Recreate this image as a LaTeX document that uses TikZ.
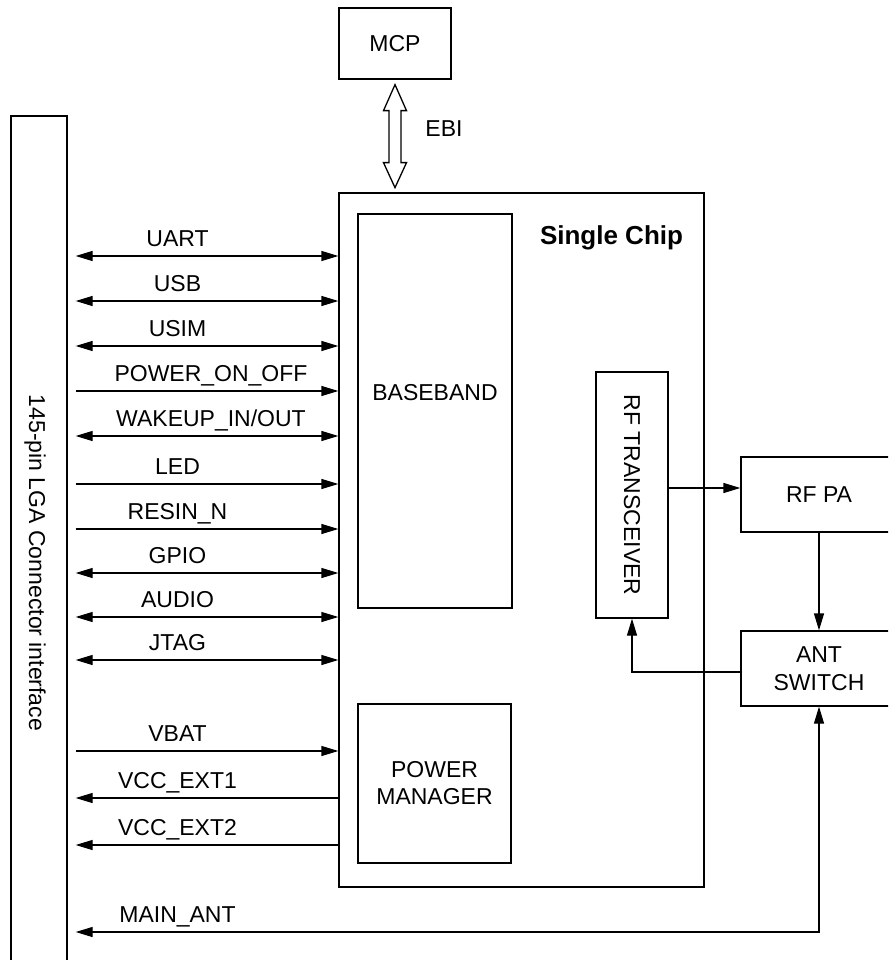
\documentclass[tikz,border=0pt]{standalone}
\usepackage{fontspec}
\setmainfont{Liberation Sans}
\usetikzlibrary{arrows.meta,calc}
\begin{document}
\begin{tikzpicture}[x=1pt,y=-1pt,
  lw/.style={line width=1.3pt},
  blk/.style={draw,lw,inner sep=0pt,rectangle,align=center,font=\fontsize{23}{28}\selectfont},
  txt/.style={inner sep=0pt,font=\fontsize{23}{28}\selectfont},
  sig/.style={lw,arrows={-Triangle[length=17pt,width=10pt]}},
  sigb/.style={lw,arrows={Triangle[length=17pt,width=10pt]-Triangle[length=17pt,width=10pt]}},
  lbl/.style={txt,anchor=base}]
\useasboundingbox (0,0) rectangle (888,960);
\clip (0,0) rectangle (888,960);
% blocks
\node[blk,minimum width=56pt,minimum height=860pt] (conn) at (39,546) {};
\node[txt,rotate=-90] (connlbl) at (35,563) {145-pin LGA Connector interface};
\node[blk,minimum width=112pt,minimum height=71pt] (mcp) at (395,43.5) {MCP};
\node[blk,minimum width=365pt,minimum height=694pt] (chip) at (521.5,540) {};
\node[txt,anchor=base,font=\fontsize{26}{30}\selectfont\bfseries] (chiplbl) at (611.5,244) {Single Chip};
\node[blk,minimum width=154pt,minimum height=394pt] (bb) at (435,411) {};
\node[txt] (bblbl) at (435,393) {BASEBAND};
\node[blk,minimum width=153pt,minimum height=159pt,font=\fontsize{23}{27}\selectfont] (pm) at (434.5,783.5) {POWER\\MANAGER};
\node[blk,rotate=-90,minimum width=246pt,minimum height=72pt] (rft) at (632,495) {RF TRANSCEIVER};
\node[blk,minimum width=156pt,minimum height=75pt] (rfpa) at (819,494.5) {RF PA};
\node[blk,minimum width=156pt,minimum height=75pt,font=\fontsize{23}{28}\selectfont] (ant) at (819,668.5) {ANT\\SWITCH};
% EBI open double arrow
\coordinate (et) at ($(mcp.south)+(0,5)$);
\draw[lw,line join=miter] (et) -- ++(11.5,26) -- ++(-5.5,0) -- ++(0,52) -- ++(5.5,0) -- ++(-11.5,25)
  -- ++(-11.5,-25) -- ++(5.5,0) -- ++(0,-52) -- ++(-5.5,0) -- cycle;
\node[txt] (ebi) at (444,129) {EBI};
% left end coordinate
\coordinate (L) at ($(conn.east)+(8,0)$);
% signals
\draw[sigb] (L |- 0,256) -- (chip.west |- 0,256);
\node[lbl] (uart) at (177.5,246) {UART};
\draw[sigb] (L |- 0,301) -- (chip.west |- 0,301);
\node[lbl] (usb) at (177.5,291) {USB};
\draw[sigb] (L |- 0,346) -- (chip.west |- 0,346);
\node[lbl] (usim) at (177.5,336) {USIM};
\draw[sig] (L |- 0,391) -- (chip.west |- 0,391);
\node[lbl] (pwr) at (211,381) {POWER\_ON\_OFF};
\draw[sigb] (L |- 0,436) -- (chip.west |- 0,436);
\node[lbl] (wake) at (211,426) {WAKEUP\_IN/OUT};
\draw[sig] (L |- 0,484) -- (chip.west |- 0,484);
\node[lbl] (led) at (177.5,474) {LED};
\draw[sig] (L |- 0,529) -- (chip.west |- 0,529);
\node[lbl] (resin) at (177.5,519) {RESIN\_N};
\draw[sigb] (L |- 0,573) -- (chip.west |- 0,573);
\node[lbl] (gpio) at (177.5,563) {GPIO};
\draw[sigb] (L |- 0,617) -- (chip.west |- 0,617);
\node[lbl] (audio) at (177.5,607) {AUDIO};
\draw[sigb] (L |- 0,660) -- (chip.west |- 0,660);
\node[lbl] (jtag) at (177.5,650) {JTAG};
\draw[sig] (L |- 0,751) -- (chip.west |- 0,751);
\node[lbl] (vbat) at (177.5,741) {VBAT};
\draw[sig] (chip.west |- 0,798) -- (L |- 0,798);
\node[lbl] (vcc1) at (177.5,788) {VCC\_EXT1};
\draw[sig] (chip.west |- 0,845) -- (L |- 0,845);
\node[lbl] (vcc2) at (177.5,835) {VCC\_EXT2};
\draw[sigb] (L |- 0,932) -| (ant.south);
\node[lbl] (mant) at (177.5,922) {MAIN\_ANT};
% RF paths (rft is rotated: north = right side, east = bottom side)
\draw[sig] (rft.north |- 0,488) -- (rfpa.west |- 0,488);
\draw[sig] (rfpa.south) -- (ant.north);
\draw[sig] (ant.west |- 0,672) -| (rft.east);
\end{tikzpicture}
\end{document}
